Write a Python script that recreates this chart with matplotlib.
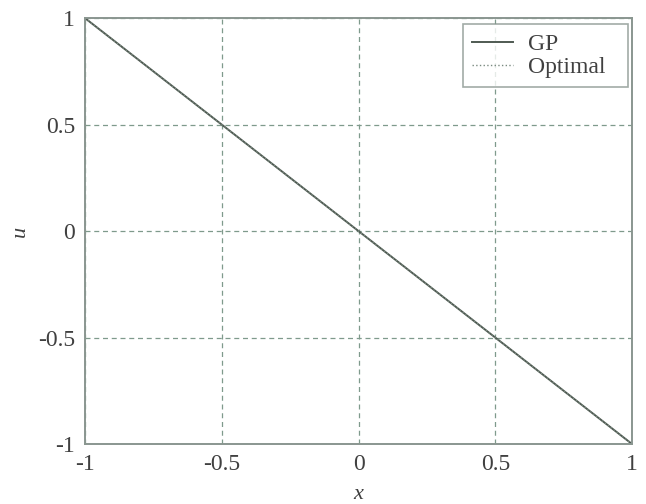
import matplotlib
matplotlib.use("Agg")
import matplotlib.pyplot as plt

x_gp = [-1.0, -0.5, 0.0, 0.5, 1.0]
u_gp = [1.0, 0.5, 0.0, -0.5, -1.0]
x_opt = [-1.0, -0.5, 0.0, 0.5, 1.0]
u_opt = [1.0, 0.5, 0.0, -0.5, -1.0]
xticks = [-1, -0.5, 0, 0.5, 1]
yticks = [-1, -0.5, 0, 0.5, 1]
xtick_labels = ["-1", "-0.5", "0", "0.5", "1"]
ytick_labels = ["-1", "-0.5", "0", "0.5", "1"]

plt.rcParams['font.family'] = ['Liberation Serif', 'DejaVu Serif']

fig = plt.figure(figsize=(6.46, 5.04), dpi=100)
ax = fig.add_axes([0.1316, 0.119, 0.8468, 0.845])

ax.plot(x_gp, u_gp, color='#4f5a52', lw=1.4, label='GP')
ax.plot(x_opt, u_opt, color='#7a8a80', lw=1.0, ls=':', label='Optimal')

ax.set_xlim(-1, 1)
ax.set_ylim(-1, 1)
ax.set_xticks(xticks)
ax.set_xticklabels(xtick_labels)
ax.set_yticks(yticks)
ax.set_yticklabels(ytick_labels)
ax.tick_params(length=0, labelsize=17, colors='#404040', pad=7)
ax.grid(True, ls=(0, (4, 3)), color='#7f9a8c', lw=0.9)
for s in ax.spines.values():
    s.set_color('#8a9690')
    s.set_linewidth(1.4)

fig.text(358 / 646, 1 - 499 / 504, 'x', style='italic', fontsize=16,
         color='#404040', ha='center', va='baseline')
fig.text(20 / 646, 1 - 231 / 504, 'u', style='italic', fontsize=16,
         color='#404040', rotation=90, ha='center', va='center')

leg = ax.legend(loc='upper left', bbox_to_anchor=(0.691, 0.0, 0.302, 0.986),
                mode='expand', fontsize=17, frameon=True, fancybox=False,
                borderaxespad=0.0, handlelength=1.7, handletextpad=0.65,
                labelspacing=0.05, borderpad=0.4)
leg.get_frame().set_edgecolor('#8a9690')
leg.get_frame().set_linewidth(1.2)
for t in leg.get_texts():
    t.set_color('#404040')

fig.savefig('out.png', dpi=100)
